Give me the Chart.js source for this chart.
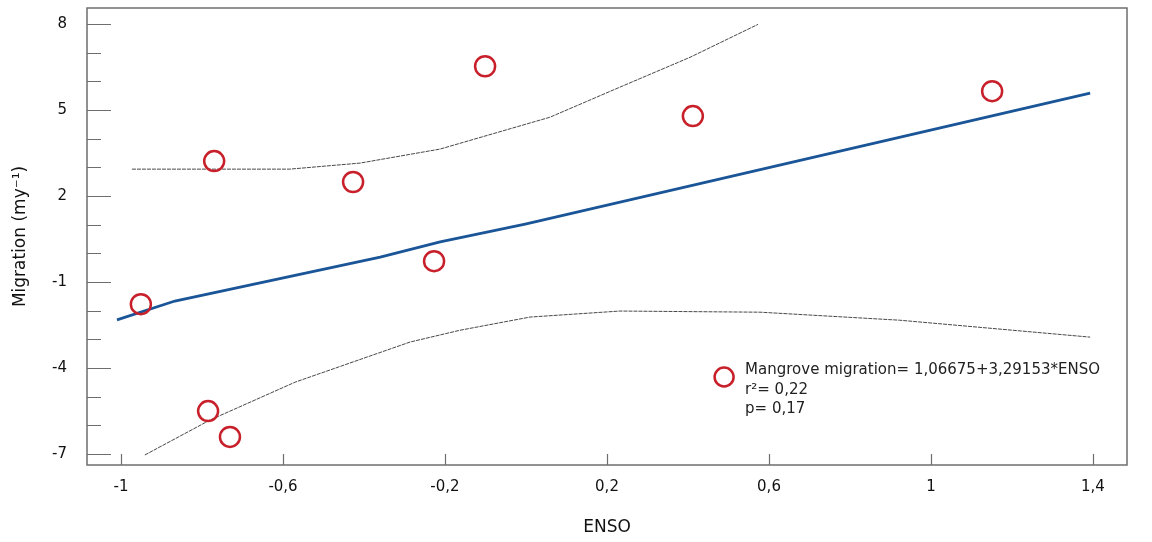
<!DOCTYPE html>
<html>
<head>
<meta charset="utf-8">
<script src="https://cdn.jsdelivr.net/npm/chart.js@4/dist/chart.umd.min.js"></script>
<style>
html,body{margin:0;padding:0;background:#fff;}
#wrap{width:1152px;height:542px;}
</style>
</head>
<body>
<div id="wrap"><canvas id="c" width="1152" height="542"></canvas></div>
<script>
// Observations (ENSO, migration)
const obsX = [-0.951, -0.770, -0.785, -0.731, -0.427, -0.227, -0.101, 0.412, 1.151];
const obsY = [-1.77, 3.22, -5.50, -6.40, 2.49, -0.27, 6.53, 4.79, 5.66];
// Regression line
const fitX = [-1.01, -0.867, -0.360, -0.212, -0.002, 1.393];
const fitY = [-2.32, -1.66, -0.13, 0.40, 1.02, 5.59];
// Upper confidence band
const upX = [-0.973, -0.780, -0.583, -0.410, -0.212, 0.059, 0.232, 0.405, 0.573];
const upY = [2.94, 2.94, 2.94, 3.15, 3.64, 4.75, 5.80, 6.84, 7.99];
// Lower confidence band
const loX = [-0.941, -0.780, -0.570, -0.286, -0.163, 0.010, 0.232, 0.578, 0.923, 1.393];
const loY = [-7.03, -5.81, -4.49, -3.09, -2.68, -2.22, -2.01, -2.05, -2.33, -2.92];
// Tick labels
const xTicks = [-1, -0.6, -0.2, 0.2, 0.6, 1, 1.4];
const yTicks = [-7, -6, -5, -4, -3, -2, -1, 0, 1, 2, 3, 4, 5, 6, 7, 8];
const yLabeled = [-7, -4, -1, 2, 5, 8];
const legendLines = ["Mangrove migration= 1,06675+3,29153*ENSO", "r\u00B2= 0,22", "p= 0,17"];

const zip = (xs, ys) => xs.map((x, i) => ({x: x, y: ys[i]}));
const fmt = v => String(Math.round(v * 100) / 100).replace('.', ',');
const FONT = "'DejaVu Sans', Verdana, sans-serif";
const noPad = () => ({top: 0, left: 0, bottom: 0, right: 0});

const frame = {
  id: 'frame',
  afterDraw(chart) {
    const ctx = chart.ctx, a = chart.chartArea;
    const xs = chart.scales.x, ys = chart.scales.y;
    ctx.save();
    ctx.strokeStyle = '#6e6e6e';
    ctx.lineWidth = 1.5;
    ctx.strokeRect(a.left, a.top, a.right - a.left, a.bottom - a.top);
    ctx.lineWidth = 1.2;
    ctx.beginPath();
    yTicks.forEach(v => {
      const py = Math.round(ys.getPixelForValue(v)) + 0.5;
      const len = yLabeled.includes(v) ? 24 : 14;
      ctx.moveTo(a.left, py); ctx.lineTo(a.left + len, py);
    });
    xTicks.forEach(v => {
      const px = Math.round(xs.getPixelForValue(v)) + 0.5;
      ctx.moveTo(px, a.bottom); ctx.lineTo(px, a.bottom - 11);
    });
    ctx.stroke();
    // legend
    const lx = xs.getPixelForValue(0.541), ly = ys.getPixelForValue(-4.31);
    ctx.strokeStyle = '#c8202a';
    ctx.lineWidth = 2.5;
    ctx.beginPath();
    ctx.arc(lx - 21, ly, 9.5, 0, Math.PI * 2);
    ctx.stroke();
    ctx.fillStyle = '#222';
    ctx.font = "15px " + FONT;
    ctx.textBaseline = 'middle';
    ctx.textAlign = 'left';
    ctx.fillText(legendLines[0], lx, ly - 7);
    ctx.fillText(legendLines[1], lx, ly + 13);
    ctx.fillText(legendLines[2], lx, ly + 32);
    ctx.restore();
  }
};

new Chart(document.getElementById('c'), {
  type: 'scatter',
  data: {
    datasets: [
      {data: zip(fitX, fitY), showLine: true, borderColor: '#1a5597', borderWidth: 2.8, pointRadius: 0, order: 2},
      {data: zip(upX, upY), showLine: true, borderColor: '#333', borderWidth: 0.9, borderDash: [4, 1], pointRadius: 0, order: 3},
      {data: zip(loX, loY), showLine: true, borderColor: '#333', borderWidth: 0.9, borderDash: [4, 1], pointRadius: 0, order: 3},
      {data: zip(obsX, obsY), showLine: false, pointStyle: 'circle', pointRadius: 10, pointBorderWidth: 2.5,
       pointBorderColor: '#c8202a', pointBackgroundColor: 'rgba(255,255,255,0)', order: 1}
    ]
  },
  options: {
    responsive: false,
    animation: false,
    devicePixelRatio: 1,
    layout: {autoPadding: false, padding: {top: 8, right: 25, left: 0, bottom: 0}},
    plugins: {legend: {display: false}, tooltip: {enabled: false}},
    scales: {
      x: {
        type: 'linear', min: -1.084, max: 1.484,
        afterBuildTicks: s => { s.ticks = xTicks.map(v => ({value: v})); },
        afterFit: s => { s.height = 77; s.paddingLeft = 0; s.paddingRight = 0; s.getPadding = noPad; },
        grid: {drawOnChartArea: false, drawTicks: false},
        border: {display: false},
        ticks: {padding: 13, color: '#111', font: {size: 15, family: FONT}, callback: v => fmt(v), maxRotation: 0, autoSkip: false},
        title: {display: true, text: 'ENSO', color: '#111', font: {size: 17, family: FONT}, padding: {top: 16}}
      },
      y: {
        type: 'linear', min: -7.38, max: 8.56,
        afterBuildTicks: s => { s.ticks = yTicks.map(v => ({value: v})); },
        afterFit: s => { s.width = 87; s.paddingTop = 0; s.paddingBottom = 0; s.getPadding = noPad; },
        grid: {drawOnChartArea: false, drawTicks: false},
        border: {display: false},
        ticks: {padding: 20, color: '#111', font: {size: 15, family: FONT}, autoSkip: false,
                callback: v => yLabeled.includes(v) ? fmt(v) : ''},
        title: {display: true, text: 'Migration (my\u207B\u00B9)', color: '#111', font: {size: 17, family: FONT}, padding: {top: 10, bottom: 4}}
      }
    }
  },
  plugins: [frame]
});
</script>
</body>
</html>
